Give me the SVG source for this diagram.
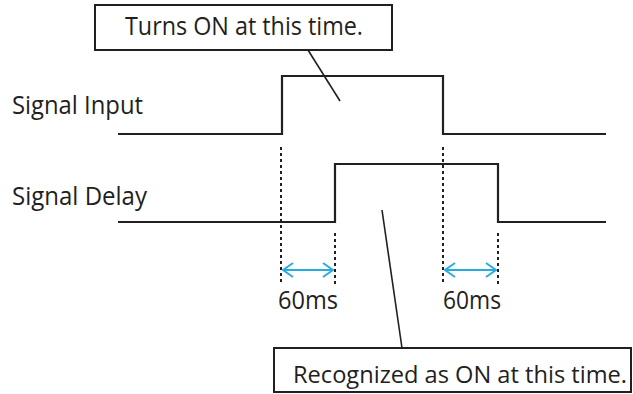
<svg xmlns="http://www.w3.org/2000/svg" width="633" height="394" viewBox="0 0 633 394">
<style>
text{font-family:"Open Sans","Noto Sans",sans-serif;fill:#231f20;}
.lbl{font-size:25px;}
.sm{font-size:24px;}
.sig{fill:none;stroke:#231f20;stroke-width:2.2;}
.dot{stroke:#231f20;stroke-width:2;stroke-dasharray:3 3;}
.box{fill:#fff;stroke:#231f20;stroke-width:2;}
.lead{stroke:#231f20;stroke-width:1.6;}
.arr{stroke:#29abe2;stroke-width:2;fill:none;}
</style>
<defs>
<marker id="ah" viewBox="0 0 12 16" refX="11" refY="8" markerWidth="12" markerHeight="16" markerUnits="userSpaceOnUse" orient="auto-start-reverse">
<path d="M1,1 L11,8 L1,15" fill="none" stroke="#29abe2" stroke-width="2"/>
</marker>
</defs>
<rect width="633" height="394" fill="#fff"/>
<g id="connectors">
<line class="lead" x1="308" y1="50" x2="340" y2="101"/>
<line class="lead" x1="382" y1="210" x2="402" y2="348"/>
<line class="dot" x1="281" y1="147" x2="281" y2="284"/>
<line class="dot" x1="335" y1="233" x2="335" y2="284"/>
<line class="dot" x1="443" y1="147" x2="443" y2="284"/>
<line class="dot" x1="498" y1="233" x2="498" y2="284"/>
<line class="arr" x1="283" y1="270" x2="333" y2="270" marker-start="url(#ah)" marker-end="url(#ah)"/>
<line class="arr" x1="445" y1="270" x2="496" y2="270" marker-start="url(#ah)" marker-end="url(#ah)"/>
</g>
<g id="signal-input">
<text class="lbl" x="12" y="114" textLength="131" lengthAdjust="spacingAndGlyphs">Signal Input</text>
<polyline class="sig" points="118,134 282,134 282,76 443,76 443,134 606,134"/>
</g>
<g id="signal-delay">
<text class="lbl" x="12" y="205" textLength="135" lengthAdjust="spacingAndGlyphs">Signal Delay</text>
<polyline class="sig" points="118,222 335,222 335,164 498,164 498,222 606,222"/>
</g>
<g id="delay-1">
<text class="lbl" x="278" y="309" textLength="60" lengthAdjust="spacingAndGlyphs">60ms</text>
</g>
<g id="delay-2">
<text class="lbl" x="443" y="309" textLength="58" lengthAdjust="spacingAndGlyphs">60ms</text>
</g>
<g id="note-on">
<rect class="box" x="95" y="5" width="297" height="45"/>
<text class="lbl" x="125" y="35" textLength="238" lengthAdjust="spacingAndGlyphs">Turns ON at this time.</text>
</g>
<g id="note-recognized">
<rect class="box" x="274" y="348" width="357" height="44"/>
<text class="sm" x="293" y="383" textLength="334" lengthAdjust="spacingAndGlyphs">Recognized as ON at this time.</text>
</g>
</svg>
